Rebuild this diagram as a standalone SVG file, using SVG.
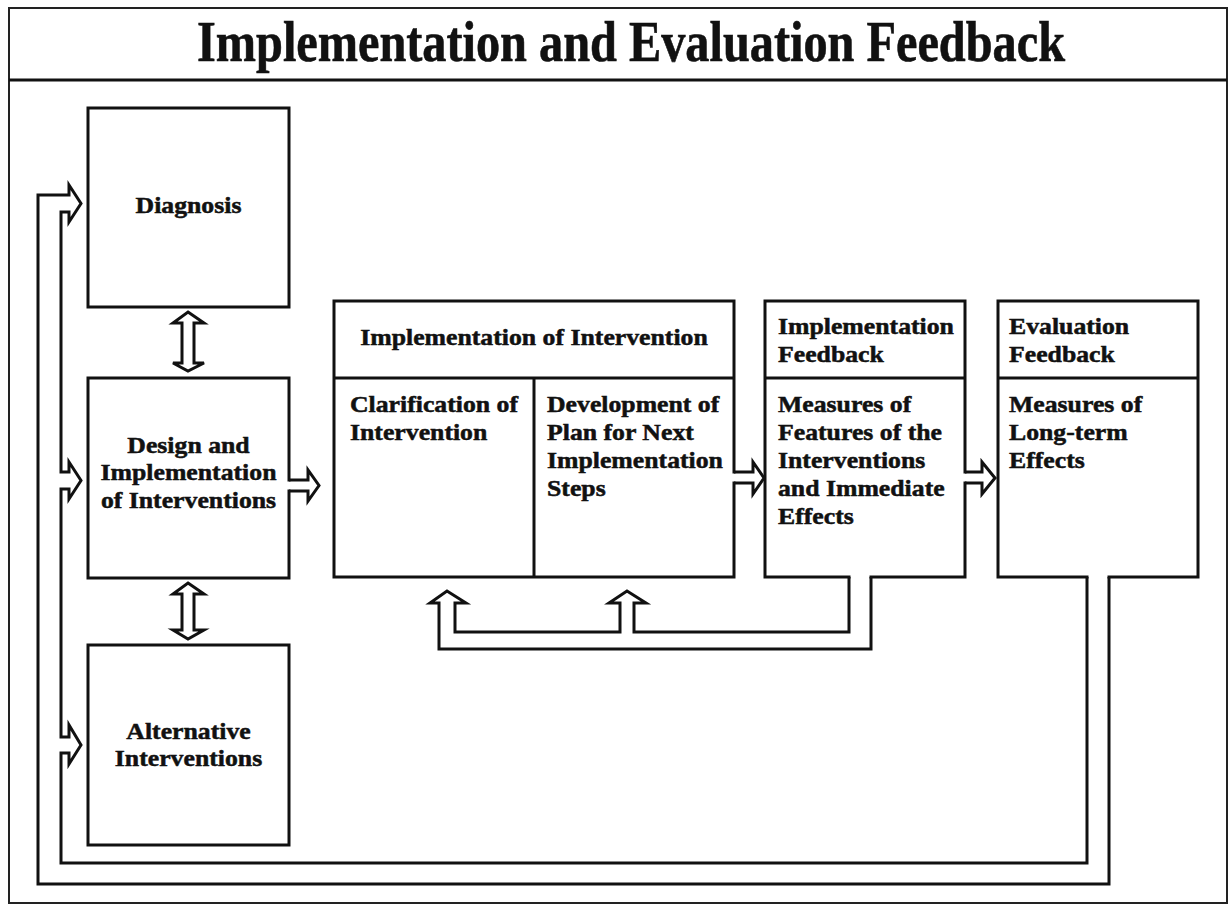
<svg xmlns="http://www.w3.org/2000/svg" width="1230" height="905" viewBox="0 0 1230 905">
<style>
.box{fill:#fff;stroke:#111;stroke-width:3}
.ln{fill:none;stroke:#111;stroke-width:3;stroke-linejoin:miter}
.dbl{fill:#fff;stroke:#111;stroke-width:3;stroke-linejoin:miter}
.gap{fill:#fff}
.t{font-family:"Liberation Serif","Times New Roman",serif;font-weight:bold;font-size:23px;fill:#111;stroke:#111;stroke-width:0.5}
.c{text-anchor:middle}
.title{font-family:"Liberation Serif","Times New Roman",serif;font-weight:bold;font-size:57px;fill:#111;text-anchor:middle;stroke:#111;stroke-width:0.6}
</style>
<rect x="0" y="0" width="1230" height="905" fill="#fff"/>
<g id="frame">
  <rect x="9" y="8" width="1218" height="895" fill="none" stroke="#222" stroke-width="2"/>
  <line x1="9" y1="80" x2="1227" y2="80" stroke="#111" stroke-width="3"/>
  <text class="title" x="631" y="61" textLength="868" lengthAdjust="spacingAndGlyphs">Implementation and Evaluation Feedback</text>
</g>
<g id="node-diagnosis">
  <rect class="box" x="88" y="108" width="201" height="199"/>
  <text class="t c" transform="translate(188.5,213) scale(1.12,1)">Diagnosis</text>
</g>
<g id="node-design">
  <rect class="box" x="88" y="378" width="201" height="200"/>
  <text class="t c" transform="translate(188.5,453) scale(1.12,1)"><tspan x="0" y="0">Design and</tspan><tspan x="0" y="27.5">Implementation</tspan><tspan x="0" y="55">of Interventions</tspan></text>
</g>
<g id="node-alternative">
  <rect class="box" x="88" y="645" width="201" height="200"/>
  <text class="t c" transform="translate(188.5,739) scale(1.12,1)"><tspan x="0" y="0">Alternative</tspan><tspan x="0" y="27.5">Interventions</tspan></text>
</g>
<g id="node-implementation">
  <rect class="box" x="334" y="301" width="400" height="276"/>
  <line class="ln" x1="334" y1="378" x2="734" y2="378"/>
  <line class="ln" x1="534" y1="378" x2="534" y2="577"/>
  <text class="t c" transform="translate(534,345) scale(1.12,1)">Implementation of Intervention</text>
  <text class="t" transform="translate(350,412) scale(1.12,1)"><tspan x="0" y="0">Clarification of</tspan><tspan x="0" y="28">Intervention</tspan></text>
  <text class="t" transform="translate(547,412) scale(1.12,1)"><tspan x="0" y="0">Development of</tspan><tspan x="0" y="28">Plan for Next</tspan><tspan x="0" y="56">Implementation</tspan><tspan x="0" y="84">Steps</tspan></text>
</g>
<g id="node-impl-feedback">
  <rect class="box" x="765" y="301" width="200" height="276"/>
  <line class="ln" x1="765" y1="378" x2="965" y2="378"/>
  <text class="t" transform="translate(778,334) scale(1.12,1)"><tspan x="0" y="0">Implementation</tspan><tspan x="0" y="28">Feedback</tspan></text>
  <text class="t" transform="translate(778,412) scale(1.12,1)"><tspan x="0" y="0">Measures of</tspan><tspan x="0" y="28">Features of the</tspan><tspan x="0" y="56">Interventions</tspan><tspan x="0" y="84">and Immediate</tspan><tspan x="0" y="112">Effects</tspan></text>
</g>
<g id="node-eval-feedback">
  <rect class="box" x="998" y="301" width="200" height="276"/>
  <line class="ln" x1="998" y1="378" x2="1198" y2="378"/>
  <text class="t" transform="translate(1009,334) scale(1.12,1)"><tspan x="0" y="0">Evaluation</tspan><tspan x="0" y="28">Feedback</tspan></text>
  <text class="t" transform="translate(1009,412) scale(1.12,1)"><tspan x="0" y="0">Measures of</tspan><tspan x="0" y="28">Long-term</tspan><tspan x="0" y="56">Effects</tspan></text>
</g>
<g id="connectors">
  <rect class="gap" x="287" y="481.5" width="4" height="8"/>
  <rect class="gap" x="732" y="473.5" width="4" height="8"/>
  <rect class="gap" x="963" y="473.5" width="4" height="8"/>
  <rect class="gap" x="850.5" y="575" width="19" height="4"/>
  <rect class="gap" x="1088.5" y="575" width="19" height="4"/>
  <polygon class="dbl" points="188,312 204,323 194,323 194,363 204,363 188,371 173,363 182,363 182,323 173,323"/>
  <polygon class="dbl" points="188,583 204,594 194,594 194,630 204,630 188,639 173,630 182,630 182,594 173,594"/>
  <path class="ln" d="M289,480 H308 V470 L319,485.5 L308,501 V491 H289"/>
  <path class="ln" d="M734,472 H753 V462 L764,478 L753,494 V483 H734"/>
  <path class="ln" d="M965,472 H982 V462 L995,478 L982,494 V483 H965"/>
  <path class="ln" d="M871,577 V649 H439 V603 H430 L447,591 L466,603 H455 V632 H620 V603 H609 L627,591 L646,603 H634 V632 H849 V577"/>
  <path class="ln" d="M1109,577 V884 H38 V195 H69 V185 L81,203.5 L69,222 V212 H61 V472 H69 V462 L81,480.5 L69,499 V489 H61 V737 H69 V725 L81,745 L69,764 V753 H61 V863 H1087 V577"/>
</g>
</svg>
